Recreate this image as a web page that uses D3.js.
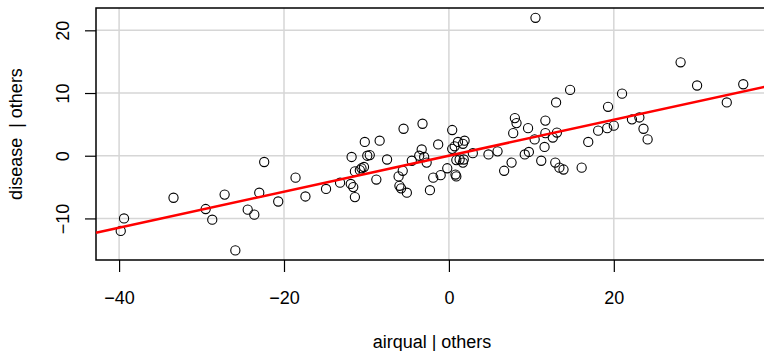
<!DOCTYPE html>
<html>
<head>
<meta charset="utf-8">
<script src="https://cdn.jsdelivr.net/npm/d3@7"></script>
<style>
  body { margin: 0; background: #fff; }
  text { font-family: "Liberation Sans", Arial, Helvetica, sans-serif; fill: #000; }
</style>
</head>
<body>
<svg id="chart"></svg>
<script>
const W = 764, H = 351;

// partial residuals
const airqual = [-39.8, -39.4, -33.4, -29.5, -28.7, -27.2, -25.9, -24.4, -23.6, -23.0,
    -22.4, -20.7, -18.6, -17.4, -14.9, -13.2, -11.9, -11.6, -11.4, -11.8,
    -11.4, -10.8, -10.6, -10.3, -10.2, -8.4, -9.9, -9.6, -8.8, -7.5,
    -6.1, -5.6, -6.0, -5.8, -5.1, -5.5, -3.2, -4.5, -3.6, -3.3,
    -3.0, -2.7, -2.3, -1.9, -1.0, -0.2, -1.3, 0.4, 0.4, 0.7,
    1.1, 1.9, 1.7, 0.9, 1.3, 1.8, 1.7, 0.8, 0.9, 2.9,
    4.8, 5.9, 6.7, 7.6, 8.0, 8.2, 7.8, 9.6, 9.2, 9.7,
    10.5, 10.4, 11.7, 11.7, 13.1, 12.6, 11.6, 11.2, 12.9, 13.4,
    13.9, 16.1, 13.0, 14.7, 16.9, 18.1, 19.2, 20.0, 19.3, 21.0,
    22.2, 23.1, 23.6, 24.1, 28.1, 30.1, 33.7, 35.7];
const disease = [-12.0, -10.0, -6.7, -8.5, -10.2, -6.2, -15.1, -8.6, -9.4, -5.9,
    -1.0, -7.3, -3.5, -6.5, -5.3, -4.3, -4.5, -5.0, -6.6, -0.2,
    -2.5, -2.3, -2.0, -1.8, 2.2, 2.4, 0.0, 0.1, -3.8, -0.6,
    -3.3, -2.4, -4.8, -5.2, -5.9, 4.3, 5.1, -0.8, 0.0, 1.0,
    -0.2, -1.1, -5.5, -3.5, -3.1, -2.0, 1.8, 4.1, 1.1, 1.5,
    2.2, 2.4, 1.9, -0.7, -0.6, -0.6, -1.1, -3.0, -3.3, 0.4,
    0.2, 0.7, -2.4, -1.1, 6.0, 5.2, 3.6, 4.4, 0.2, 0.6,
    22.0, 2.6, 5.6, 3.6, 3.7, 2.9, 1.4, -0.8, -1.1, -1.9,
    -2.2, -1.9, 8.5, 10.5, 2.2, 4.0, 4.4, 4.8, 7.8, 9.9,
    5.8, 6.1, 4.3, 2.6, 14.9, 11.2, 8.5, 11.4];

const xTicks = [-40, -20, 0, 20];
const yTicks = [-10, 0, 10, 20];
const fitSlope = 0.287;
const fitIntercept = 0;

const margin = { left: 96, top: 8, right: -4, bottom: 91 };
const x0 = margin.left, x1 = W - margin.right;
const y0 = margin.top, y1 = H - margin.bottom;

const svg = d3.select("#chart").attr("width", W).attr("height", H);

const x = d3.scaleLinear().domain([-42.8, 38.7]).range([x0, x1]);
const y = d3.scaleLinear().domain([-16.63, 23.56]).range([y1, y0]);

// grid
svg.append("g").selectAll("line").data(xTicks).enter().append("line")
    .attr("x1", d => x(d)).attr("x2", d => x(d))
    .attr("y1", y0).attr("y2", y1)
    .attr("stroke", "#d6d6d6").attr("stroke-width", 1.5);
svg.append("g").selectAll("line").data(yTicks).enter().append("line")
    .attr("x1", x0).attr("x2", x1)
    .attr("y1", d => y(d)).attr("y2", d => y(d))
    .attr("stroke", "#d6d6d6").attr("stroke-width", 1.5);

// axes
const fmt = d => d < 0 ? "\u2212" + Math.abs(d) : String(d);

const xAxis = svg.append("g")
    .attr("transform", "translate(0," + y1 + ")")
    .call(d3.axisBottom(x).tickValues(xTicks).tickSize(12).tickPadding(19).tickFormat(fmt));
const yAxis = svg.append("g")
    .attr("transform", "translate(" + x0 + ",0)")
    .call(d3.axisLeft(y).tickValues(yTicks).tickSize(11).tickFormat(fmt));

[xAxis, yAxis].forEach(g => {
    g.select(".domain").remove();
    g.selectAll("line").attr("stroke", "#000").attr("stroke-width", 1.2);
    g.selectAll("text").style("font-size", "18px")
        .style("font-family", "'Liberation Sans', Arial, sans-serif");
});
// R draws y tick labels parallel to the axis
yAxis.selectAll("text")
    .attr("x", 0).attr("y", 0).attr("dy", null)
    .attr("text-anchor", "middle")
    .attr("transform", "translate(-27,0) rotate(-90)");

// box
svg.append("rect")
    .attr("x", x0).attr("y", y0)
    .attr("width", x1 - x0).attr("height", y1 - y0)
    .attr("fill", "none").attr("stroke", "#000").attr("stroke-width", 1.5);

// points
const pts = d3.zip(airqual, disease);
svg.append("g").selectAll("circle").data(pts).enter().append("circle")
    .attr("cx", d => x(d[0])).attr("cy", d => y(d[1]))
    .attr("r", 4.6)
    .attr("fill", "none").attr("stroke", "#000").attr("stroke-width", 1.1);

// fitted line
const xd = x.domain();
svg.append("line")
    .attr("x1", x(xd[0])).attr("y1", y(fitIntercept + fitSlope * xd[0]))
    .attr("x2", x(xd[1])).attr("y2", y(fitIntercept + fitSlope * xd[1]))
    .attr("stroke", "#ff0000").attr("stroke-width", 2.5);

// titles
svg.append("text")
    .attr("x", 432).attr("y", 348)
    .attr("text-anchor", "middle")
    .style("font-size", "18px")
    .text("airqual | others");
svg.append("text")
    .attr("transform", "translate(22," + ((y0 + y1) / 2) + ") rotate(-90)")
    .attr("text-anchor", "middle")
    .style("font-size", "18px")
    .style("white-space", "pre")
    .text("disease  | others");
</script>
</body>
</html>
